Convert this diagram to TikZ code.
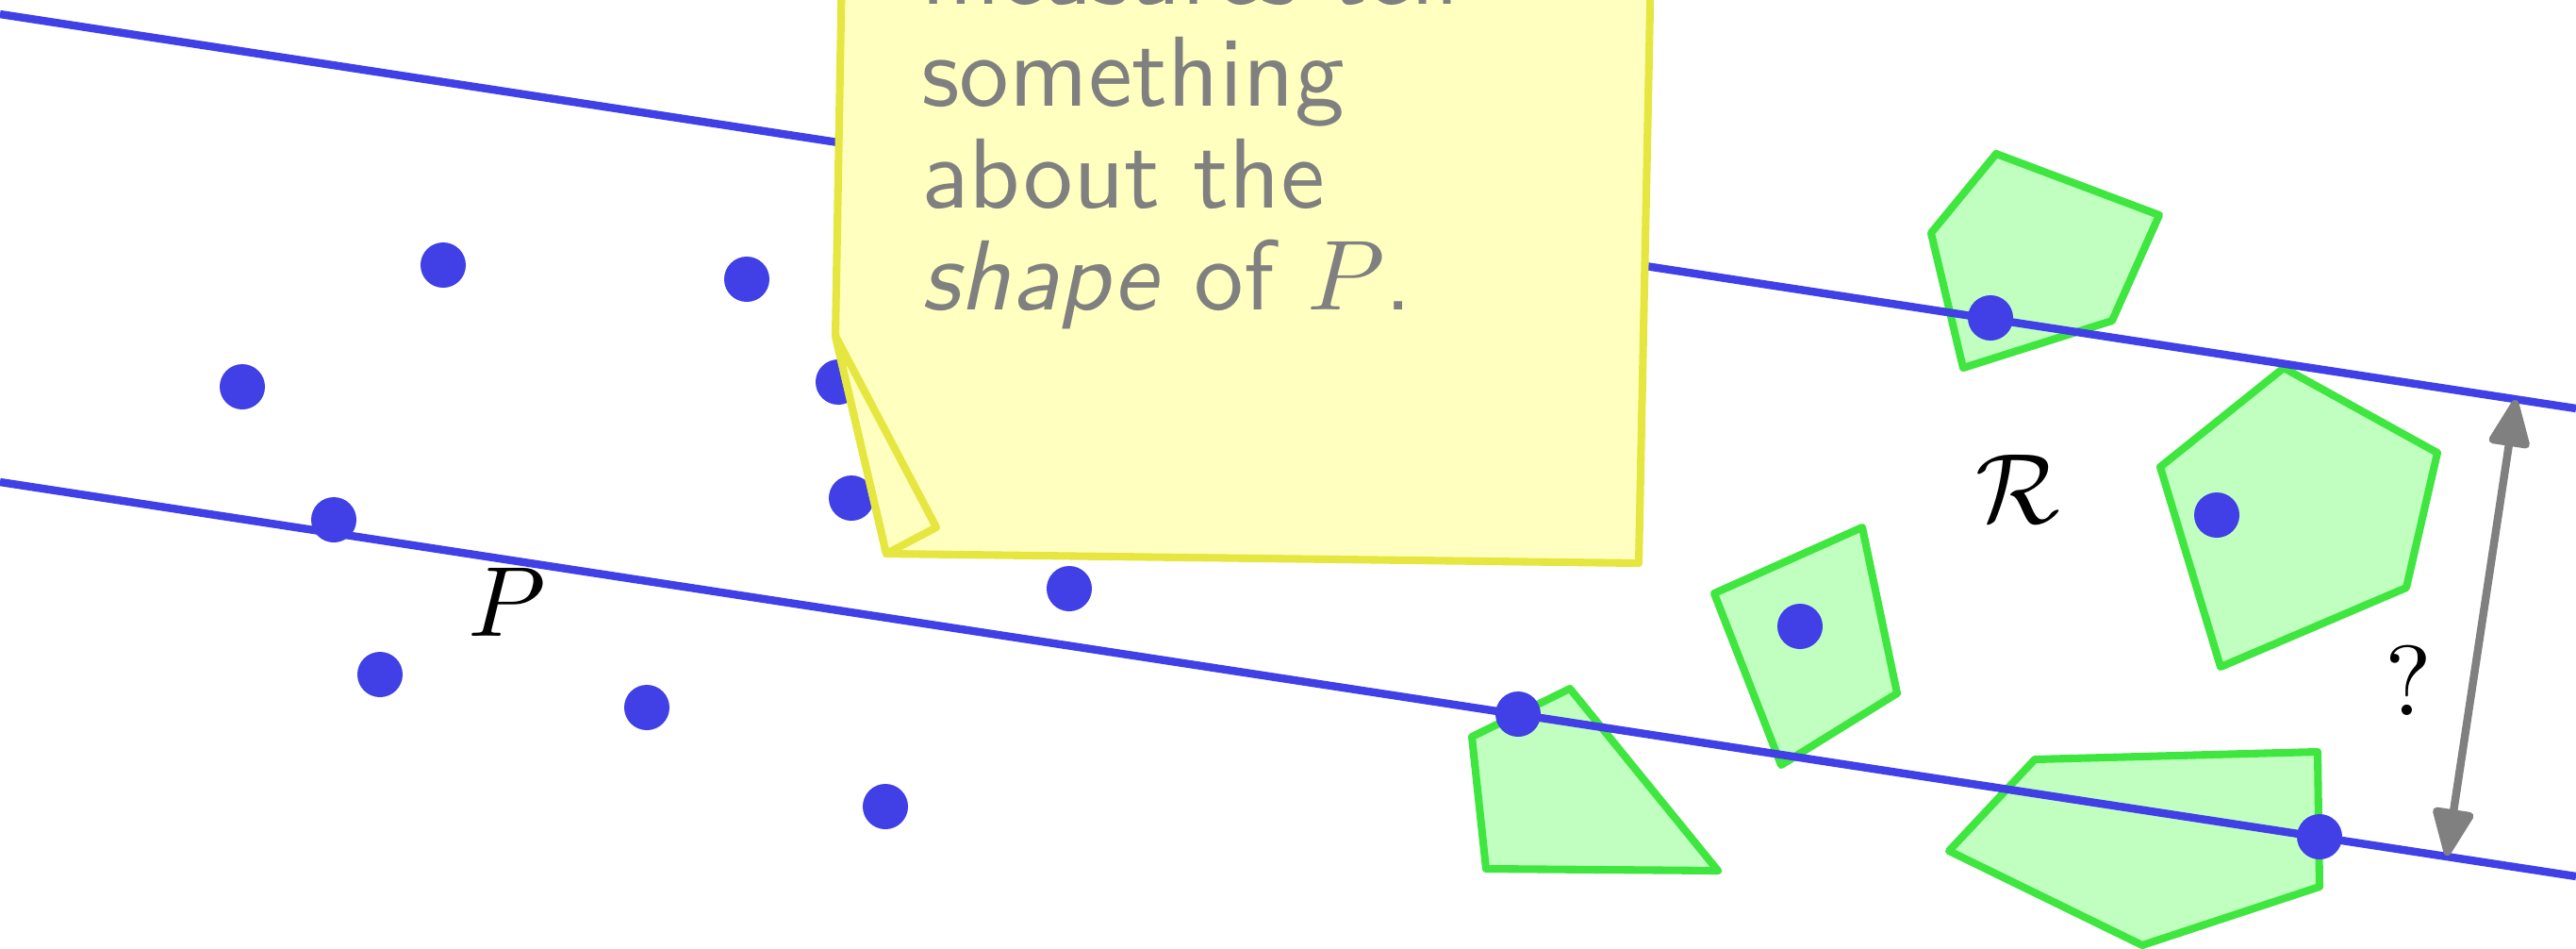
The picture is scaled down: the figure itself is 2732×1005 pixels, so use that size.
\documentclass[tikz,border=0pt]{standalone}
\usetikzlibrary{arrows.meta}
\definecolor{ptblue}{RGB}{64,64,230}
\definecolor{regfill}{RGB}{192,255,192}
\definecolor{regline}{RGB}{64,230,64}
\definecolor{notefill}{RGB}{255,255,192}
\definecolor{noteedge}{RGB}{230,230,64}
\definecolor{notegray}{RGB}{128,128,128}
\begin{document}
\begin{tikzpicture}[x=0.01cm,y=-0.01cm,
  region/.style={draw=regline,fill=regfill,line width=2.3pt,line join=round},
  slab/.style={draw=ptblue,line width=2.4pt},
  pt/.style={circle,fill=ptblue,inner sep=0pt,minimum size=0.48cm},
  notebox/.style={draw=noteedge,fill=notefill,line width=2.3pt,line join=round},
  notetxt/.style={anchor=base west,inner sep=0pt,text=notegray,font=\sffamily,scale=3},
  lbl/.style={scale=3,inner sep=0pt},
  gap/.style={draw=notegray,line width=2.4pt,
    {Triangle[length=16pt,width=13pt,round]}-{Triangle[length=16pt,width=13pt,round]}}]
\useasboundingbox (0,0) rectangle (2732,1005);
\clip (0,0) rectangle (2732,1005);

% regions
\draw[region] (2117,163) -- (2290,228) -- (2240,340) -- (2082,390) -- (2048,247) -- cycle;
\draw[region] (2422,390) -- (2585,480) -- (2552,623) -- (2355,707) -- (2291,495) -- cycle;
\draw[region] (1975,559) -- (2012,735) -- (1889,811) -- (1818,629) -- cycle;
\draw[region] (1665,730) -- (1822,923) -- (1576,921) -- (1561,781) -- cycle;
\draw[region] (2158,805) -- (2458,797) -- (2460,940) -- (2272,1002) -- (2067,902) -- cycle;

% slab lines
\coordinate (u1) at (0,15);
\coordinate (u2) at (2732,433);
\coordinate (l1) at (0,511);
\coordinate (l2) at (2732,929);
\draw[slab] (u1) -- (u2);
\draw[slab] (l1) -- (l2);

% points
\node[pt] (p1) at (470,281) {};
\node[pt] (p2) at (792,296) {};
\node[pt] (p3) at (257,410) {};
\node[pt] (p4) at (354,551) {};
\node[pt] (p5) at (403,715) {};
\node[pt] (p6) at (686,750) {};
\node[pt] (p7) at (939,855) {};
\node[pt] (p8) at (1134,624) {};
\node[pt] (p9) at (889,405) {};
\node[pt] (p10) at (903,528) {};
\node[pt] (p11) at (1610,757) {};
\node[pt] (p12) at (1909,664) {};
\node[pt] (p13) at (2111,337) {};
\node[pt] (p14) at (2351,546) {};
\node[pt] (p15) at (2460,887) {};

% note
\draw[notebox] (893,-40) -- (886,356) -- (940,587) -- (1738,597) -- (1751,-40) -- cycle;
\draw[notebox] (886,356) -- (993,559) -- (940,587) -- cycle;
\node[notetxt] (t1) at (975,4) {measures tell};
\node[notetxt] (t2) at (975,112) {something};
\node[notetxt] (t3) at (975,220) {about the};
\node[notetxt] (t4) at (975,328) {\textsl{shape} of $P$.};

% labels
\node[lbl] (labP) at (538,638) {$P$};
\node[lbl] (labR) at (2140,518) {$\mathcal{R}$};
\node[lbl] (labQ) at (2554,721) {?};

% width arrow
\coordinate (qa) at (2595,907);
\coordinate (qb) at (2668,424);
\draw[gap] (qa) -- (qb);
\end{tikzpicture}
\end{document}
